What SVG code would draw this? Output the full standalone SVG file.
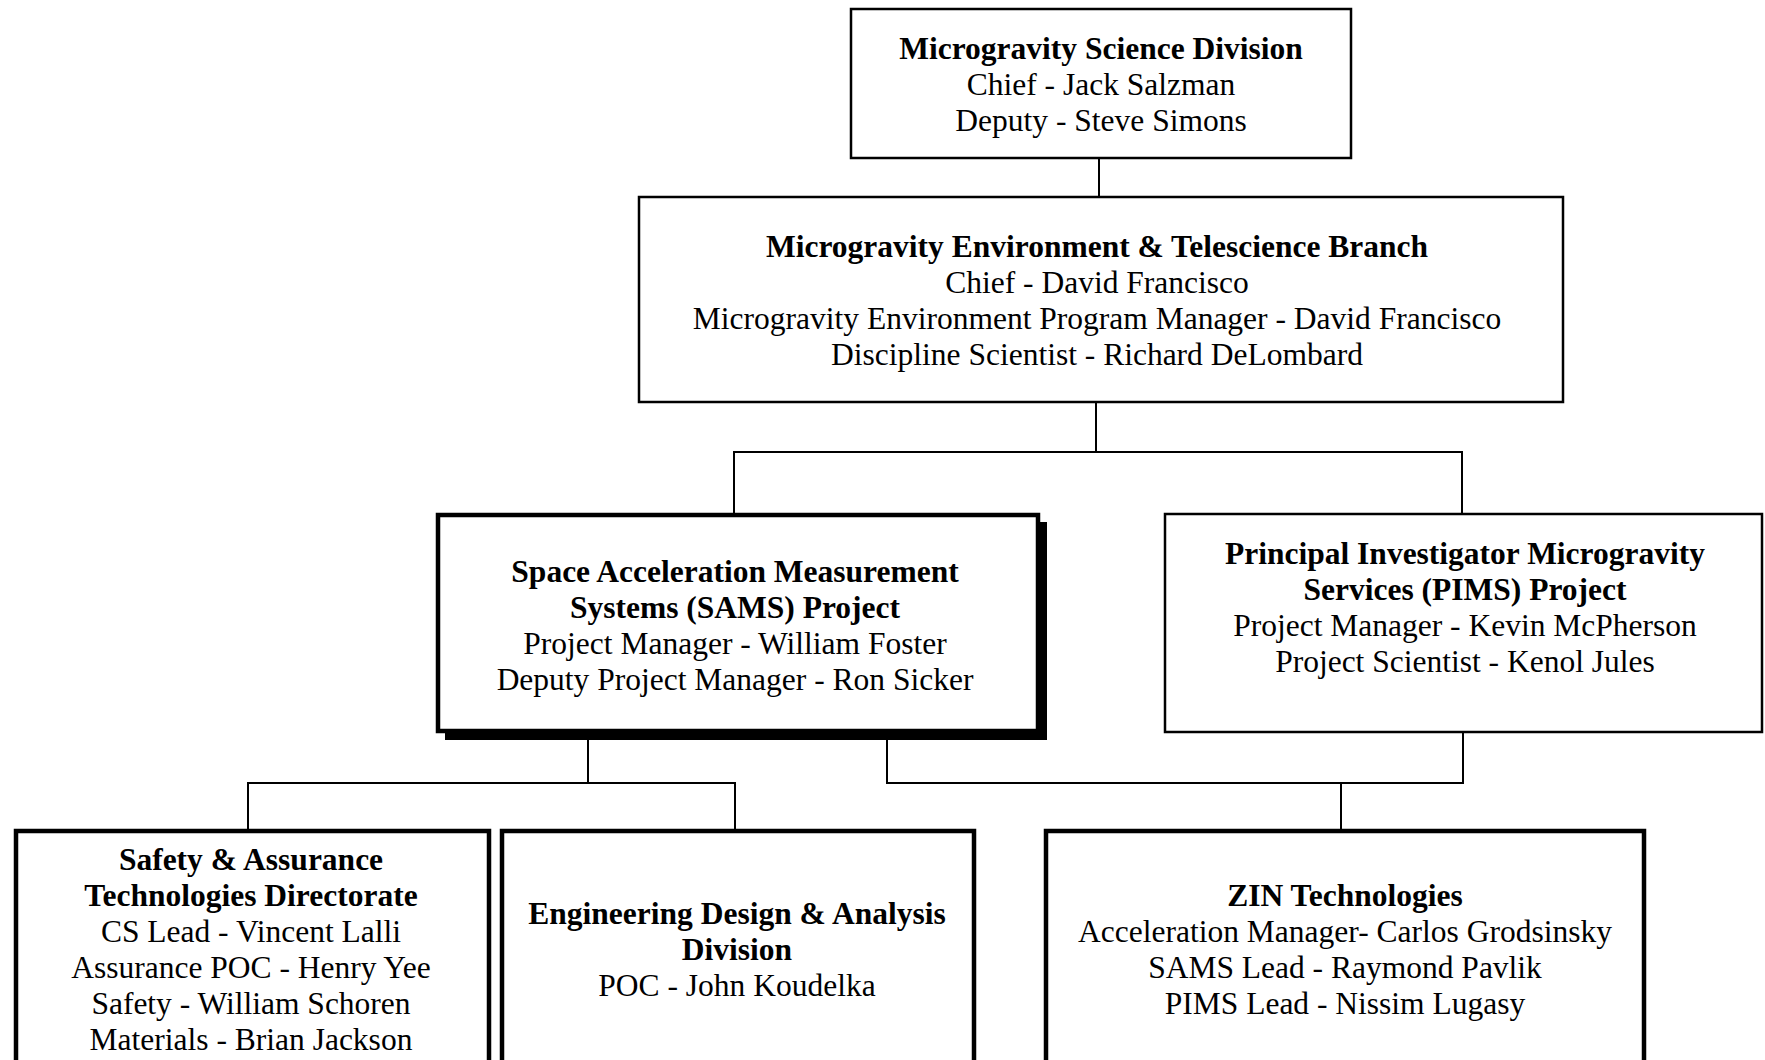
<svg xmlns="http://www.w3.org/2000/svg" width="1765" height="1060" viewBox="0 0 1765 1060">
<style>
  .box { fill: #fff; stroke: #000; stroke-width: 2.5; }
  .thick { fill: #fff; stroke: #000; stroke-width: 4.5; }
  .shadow { fill: #000; stroke: none; }
  .conn { fill: none; stroke: #000; stroke-width: 2; }
  text { font-family: "Liberation Serif", "Times New Roman", serif; font-size: 31.5px; fill: #000; text-anchor: middle; }
  .b { font-weight: bold; }
</style>
<rect width="1765" height="1060" fill="#fff"/>
<g id="connectors">
  <line class="conn" x1="1099" y1="158" x2="1099" y2="197"/>
  <polyline class="conn" points="1096,402 1096,452"/>
  <polyline class="conn" points="734,514 734,452 1462,452 1462,514"/>
  <polyline class="conn" points="588,740 588,783"/>
  <polyline class="conn" points="248,829 248,783 735,783 735,829"/>
  <polyline class="conn" points="887,740 887,783 1463,783 1463,732"/>
  <polyline class="conn" points="1341,783 1341,829"/>
</g>
<g id="n-msd">
  <rect class="box" x="851" y="9" width="500" height="149"/>
  <text x="1101" y="59" class="b">Microgravity Science Division</text>
  <text x="1101" y="95">Chief - Jack Salzman</text>
  <text x="1101" y="131">Deputy - Steve Simons</text>
</g>
<g id="n-metb">
  <rect class="box" x="639" y="197" width="924" height="205"/>
  <text x="1097" y="257" class="b">Microgravity Environment &amp; Telescience Branch</text>
  <text x="1097" y="293">Chief - David Francisco</text>
  <text x="1097" y="329">Microgravity Environment Program Manager - David Francisco</text>
  <text x="1097" y="365">Discipline Scientist - Richard DeLombard</text>
</g>
<g id="n-sams">
  <rect class="shadow" x="445" y="522" width="602" height="218"/>
  <rect class="thick" x="438" y="515" width="600" height="216" stroke-width="3.5"/>
  <text x="735" y="582" class="b">Space Acceleration Measurement</text>
  <text x="735" y="618" class="b">Systems (SAMS) Project</text>
  <text x="735" y="654">Project Manager - William Foster</text>
  <text x="735" y="690">Deputy Project Manager - Ron Sicker</text>
</g>
<g id="n-pims">
  <rect class="box" x="1165" y="514" width="597" height="218"/>
  <text x="1465" y="564" class="b">Principal Investigator Microgravity</text>
  <text x="1465" y="600" class="b">Services (PIMS) Project</text>
  <text x="1465" y="636">Project Manager - Kevin McPherson</text>
  <text x="1465" y="672">Project Scientist - Kenol Jules</text>
</g>
<g id="n-satd">
  <rect class="thick" x="16" y="831" width="473" height="260"/>
  <text x="251" y="870" class="b">Safety &amp; Assurance</text>
  <text x="251" y="906" class="b">Technologies Directorate</text>
  <text x="251" y="942">CS Lead - Vincent Lalli</text>
  <text x="251" y="978">Assurance POC - Henry Yee</text>
  <text x="251" y="1014">Safety - William Schoren</text>
  <text x="251" y="1050">Materials - Brian Jackson</text>
</g>
<g id="n-edad">
  <rect class="thick" x="502" y="831" width="472" height="260"/>
  <text x="737" y="924" class="b">Engineering Design &amp; Analysis</text>
  <text x="737" y="960" class="b">Division</text>
  <text x="737" y="996">POC - John Koudelka</text>
</g>
<g id="n-zin">
  <rect class="thick" x="1046" y="831" width="598" height="260"/>
  <text x="1345" y="906" class="b">ZIN Technologies</text>
  <text x="1345" y="942">Acceleration Manager- Carlos Grodsinsky</text>
  <text x="1345" y="978">SAMS Lead - Raymond Pavlik</text>
  <text x="1345" y="1014">PIMS Lead - Nissim Lugasy</text>
</g>
</svg>
